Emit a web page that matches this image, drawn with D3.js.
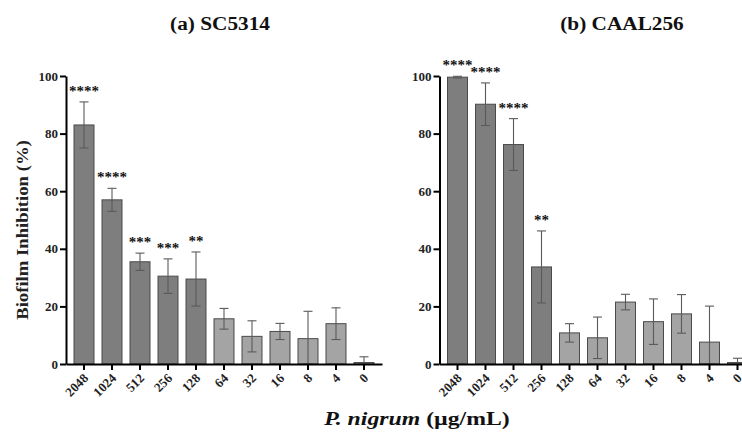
<!DOCTYPE html>
<html>
<head>
<meta charset="utf-8">
<script src="https://cdn.jsdelivr.net/npm/d3@7"></script>
<style>
  body { margin: 0; background: #fff; }
  text { font-family: "Liberation Serif", "Times New Roman", serif; font-weight: bold; }
</style>
</head>
<body>
<script>
// concentrations of P. nigrum (ug/mL)
var conc = ["2048", "1024", "512", "256", "128", "64", "32", "16", "8", "4", "0"];

// (a) SC5314
var scMean = [83, 57, 35.5, 30.5, 29.5, 15.7, 9.6, 11.3, 8.8, 14, 0.5];
var scErr  = [8, 4, 3, 6, 9.4, 3.6, 5.4, 2.8, 9.5, 5.5, 2];
var scSig  = ["****", "****", "***", "***", "**", "", "", "", "", "", ""];

// (b) CAAL256
var caMean = [99.6, 90.2, 76.2, 33.7, 10.8, 9.1, 21.5, 14.7, 17.4, 7.6, 0.5];
var caErr  = [0.3, 7.4, 9, 12.5, 3.2, 7.2, 2.7, 7.9, 6.7, 12.5, 1.5];
var caSig  = ["****", "****", "****", "**", "", "", "", "", "", "", ""];

var yTicks = [0, 20, 40, 60, 80, 100];

var panels = [
    { title: "(a) SC5314", axisX: 66, titleX: 220, mean: scMean, err: scErr, sig: scSig },
    { title: "(b) CAAL256", axisX: 439.5, titleX: 622, mean: caMean, err: caErr, sig: caSig }
];

var svg = d3.select("body").append("svg")
    .attr("width", 742)
    .attr("height", 434);

var y = d3.scaleLinear().domain([0, 100]).range([364, 76]);

panels.forEach(function (p) {
    var g = svg.append("g");

    var x = d3.scaleBand()
        .domain(conc)
        .range([p.axisX, p.axisX + 316])
        .paddingInner(0.286)
        .paddingOuter(0.286);

    var rows = conc.map(function (c, i) {
        return { c: c, m: p.mean[i], e: p.err[i], s: p.sig[i] };
    });

    // bars
    g.selectAll("rect.bar")
        .data(rows)
        .enter()
        .append("rect")
        .attr("class", "bar")
        .attr("x", function (d) { return x(d.c); })
        .attr("width", x.bandwidth())
        .attr("y", function (d) { return y(d.m); })
        .attr("height", function (d) { return y(0) - y(d.m); })
        .style("fill", function (d) { return d.s ? "#7e7e7e" : "#a4a4a4"; })
        .style("stroke", "#4a4a4a")
        .style("stroke-width", 1);

    // error bars
    var eb = g.selectAll("g.err")
        .data(rows)
        .enter()
        .append("g")
        .attr("class", "err")
        .style("stroke", "#5a5a5a")
        .style("stroke-width", 1.1);

    function cx(d) { return x(d.c) + x.bandwidth() / 2; }
    function lo(d) { return y(Math.max(0, d.m - d.e)); }
    function hi(d) { return y(d.m + d.e); }

    eb.append("line")
        .attr("x1", cx).attr("x2", cx)
        .attr("y1", lo).attr("y2", hi);
    eb.append("line")
        .attr("x1", function (d) { return cx(d) - 4.5; })
        .attr("x2", function (d) { return cx(d) + 4.5; })
        .attr("y1", hi).attr("y2", hi);
    eb.append("line")
        .attr("x1", function (d) { return cx(d) - 4.5; })
        .attr("x2", function (d) { return cx(d) + 4.5; })
        .attr("y1", lo).attr("y2", lo);

    // significance stars
    g.selectAll("text.sig")
        .data(rows.filter(function (d) { return d.s; }))
        .enter()
        .append("text")
        .attr("class", "sig")
        .attr("x", cx)
        .attr("y", function (d) { return hi(d) - 6; })
        .attr("text-anchor", "middle")
        .attr("font-size", "15px")
        .attr("fill", "#111")
        .text(function (d) { return d.s; });

    // axes
    var yAxis = g.append("g")
        .attr("transform", "translate(" + p.axisX + ",0)")
        .call(d3.axisLeft(y).tickValues(yTicks).tickSize(6).tickSizeOuter(0).tickPadding(2));

    var xAxis = g.append("g")
        .attr("transform", "translate(0," + y(0) + ")")
        .call(d3.axisBottom(x).tickSize(6).tickSizeOuter(0));

    [yAxis, xAxis].forEach(function (a) {
        a.select(".domain").style("stroke", "#000").style("stroke-width", 2);
        a.selectAll(".tick line").style("stroke", "#000").style("stroke-width", 2);
        a.selectAll("text")
            .style("font-family", "'Liberation Serif', 'Times New Roman', serif")
            .style("font-weight", "bold")
            .style("fill", "#222");
    });
    yAxis.selectAll("text").style("font-size", "13px");

    xAxis.selectAll("text")
        .style("font-size", "13px")
        .attr("text-anchor", "end")
        .attr("dy", null)
        .attr("y", 0)
        .attr("transform", "translate(5,15) rotate(-45)");

    // panel title
    svg.append("text")
        .attr("transform", "translate(" + p.titleX + ",30) scale(1.12,1)")
        .attr("text-anchor", "middle")
        .attr("font-size", "19px")
        .attr("fill", "#111")
        .text(p.title);
});

// y axis title
svg.append("text")
    .attr("transform", "translate(28,230) rotate(-90) scale(1.1,1)")
    .attr("text-anchor", "middle")
    .attr("font-size", "17px")
    .attr("fill", "#222")
    .text("Biofilm Inhibition (%)");

// x axis title
var xt = svg.append("text")
    .attr("transform", "translate(417,425) scale(1.25,1)")
    .attr("text-anchor", "middle")
    .attr("font-size", "19px")
    .attr("fill", "#111");
xt.append("tspan").style("font-style", "italic").text("P. nigrum");
xt.append("tspan").text(" (\u00b5g/mL)");
</script>
</body>
</html>
